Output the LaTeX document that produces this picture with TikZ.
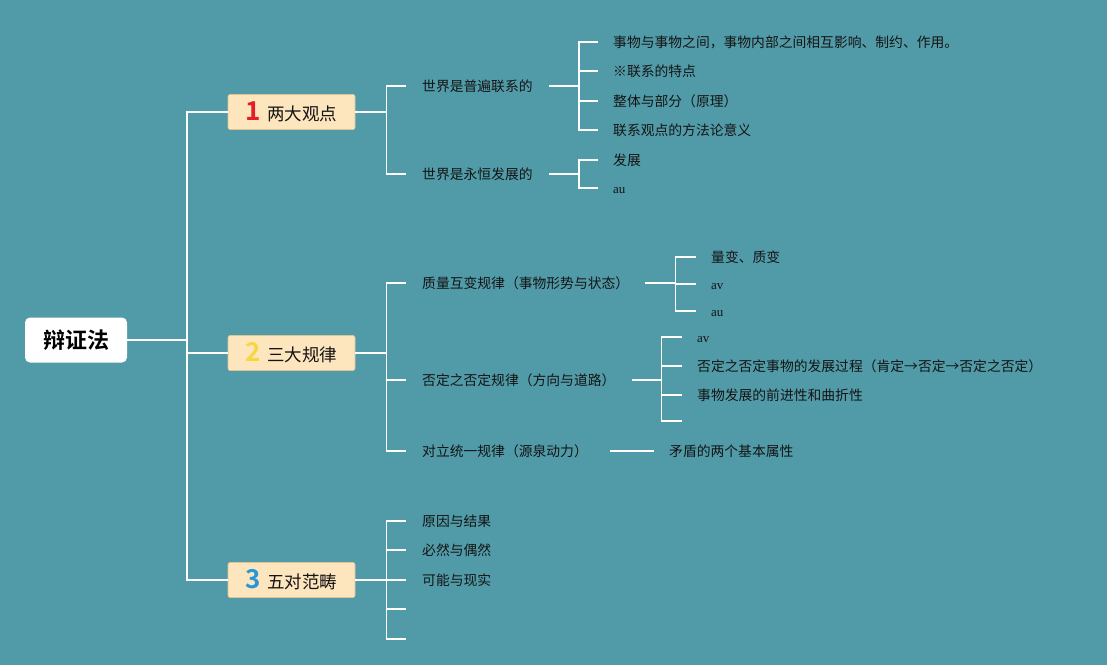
\documentclass[tikz,border=0pt]{standalone}
\usepackage{fontspec}
\newfontfamily\cjk[BoldFont={Noto Sans CJK SC Bold}]{Noto Sans CJK SC}
\newfontfamily\latin{Liberation Serif}
\usetikzlibrary{positioning}

\definecolor{bgteal}{RGB}{81,155,168}
\definecolor{tagfill}{RGB}{253,229,190}
\definecolor{tagline}{RGB}{222,196,150}
\definecolor{inkdark}{RGB}{20,20,20}
\definecolor{numred}{RGB}{226,30,40}
\definecolor{numyellow}{RGB}{247,214,64}
\definecolor{numblue}{RGB}{40,150,215}

\tikzset{
	link/.style={draw=white, line width=1.6pt},
	rootbox/.style={fill=white, rounded corners=5pt, minimum width=102pt, minimum height=45pt, font=\cjk\bfseries\fontsize{22}{26}\selectfont, text=black},
	tagbox/.style={fill=tagfill, draw=tagline, line width=0.6pt, rounded corners=2pt, minimum width=127pt, minimum height=35pt, font=\cjk\fontsize{17.5}{20}\selectfont, text=inkdark},
	item/.style={anchor=west, inner sep=0pt, font=\cjk\fontsize{13.8}{16}\selectfont, text=inkdark},
}
\newcommand{\tagnum}[2]{{\bfseries\fontsize{26}{26}\selectfont\color{#1}#2}\hspace{6pt}}
\newcommand{\lat}[1]{{\latin\fontsize{13}{15}\selectfont #1}\vphantom{字}}

\begin{document}
\begin{tikzpicture}[x=1pt, y=-1pt]
	\fill[bgteal] (0,0) rectangle (1107,665);
	\useasboundingbox (0,0) rectangle (1107,665);

	% root and the three tags
	\node[rootbox] (root) at (76,340) {辩证法};
	\node[tagbox] (t1) at (291.5,112) {\tagnum{numred}{1}两大观点};
	\node[tagbox] (t2) at (291.5,353) {\tagnum{numyellow}{2}三大规律};
	\node[tagbox] (t3) at (291.5,580) {\tagnum{numblue}{3}五对范畴};

	% second level
	\node[item] (a1) at (422,86) {世界是普遍联系的};
	\node[item] (a2) at (422,174) {世界是永恒发展的};
	\node[item] (a3) at (422,283) {质量互变规律（事物形势与状态）};
	\node[item] (a4) at (422,380) {否定之否定规律（方向与道路）};
	\node[item] (a5) at (422,451) {对立统一规律（源泉动力）};
	\node[item] (a6) at (422,521) {原因与结果};
	\node[item] (a7) at (422,550) {必然与偶然};
	\node[item] (a8) at (422,580) {可能与现实};
	\coordinate (a9) at (422,609);
	\coordinate (a10) at (422,639);

	% leaves
	\node[item] (c1) at (613,42) {事物与事物之间，事物内部之间相互影响、制约、作用。};
	\node[item] (c2) at (613,71) {※联系的特点};
	\node[item] (c3) at (613,101) {整体与部分（原理）};
	\node[item] (c4) at (613,130) {联系观点的方法论意义};
	\node[item] (c5) at (613,160) {发展};
	\node[item] (c6) at (613,188) {\lat{au}};
	\node[item] (d1) at (711,257) {量变、质变};
	\node[item] (d2) at (711,284) {\lat{av}};
	\node[item] (d3) at (711,311) {\lat{au}};
	\node[item] (d4) at (697,337) {\lat{av}};
	\node[item] (d5) at (697,366) {否定之否定事物的发展过程（肯定→否定→否定之否定）};
	\node[item] (d6) at (697,395) {事物发展的前进性和曲折性};
	\coordinate (d7) at (697,421);
	\node[item] (d8) at (669,451) {矛盾的两个基本属性};

	% connectors
	\draw[link] (root.east) -- ++(60,0) coordinate (f0);
	\foreach \t in {t1,t2,t3}
		\draw[link] (f0) |- (\t.west);

	\draw[link] (t1.east) -- ++(31,0) coordinate (f1);
	\foreach \n in {a1,a2}
		\draw[link] (f1) |- ([xshift=-16pt]\n.west);
	\draw[link] (t2.east) -- ++(31,0) coordinate (f2);
	\foreach \n in {a3,a4,a5}
		\draw[link] (f2) |- ([xshift=-16pt]\n.west);
	\draw[link] (t3.east) -- ++(31,0) coordinate (f3);
	\foreach \n in {a6,a7,a8,a9,a10}
		\draw[link] (f3) |- ([xshift=-16pt]\n.west);

	\draw[link] ([xshift=16pt]a1.east) -- ++(30,0) coordinate (g1);
	\foreach \n in {c1,c2,c3,c4}
		\draw[link] (g1) |- ([xshift=-15pt]\n.west);
	\draw[link] ([xshift=16pt]a2.east) -- ++(30,0) coordinate (g2);
	\foreach \n in {c5,c6}
		\draw[link] (g2) |- ([xshift=-15pt]\n.west);
	\draw[link] ([xshift=16pt]a3.east) -- ++(30,0) coordinate (g3);
	\foreach \n in {d1,d2,d3}
		\draw[link] (g3) |- ([xshift=-15pt]\n.west);
	\draw[link] ([xshift=16pt]a4.east) -- ++(30,0) coordinate (g4);
	\foreach \n in {d4,d5,d6,d7}
		\draw[link] (g4) |- ([xshift=-15pt]\n.west);
	\draw[link] ([xshift=22pt]a5.east) -- ([xshift=-15pt]d8.west);
\end{tikzpicture}
\end{document}
